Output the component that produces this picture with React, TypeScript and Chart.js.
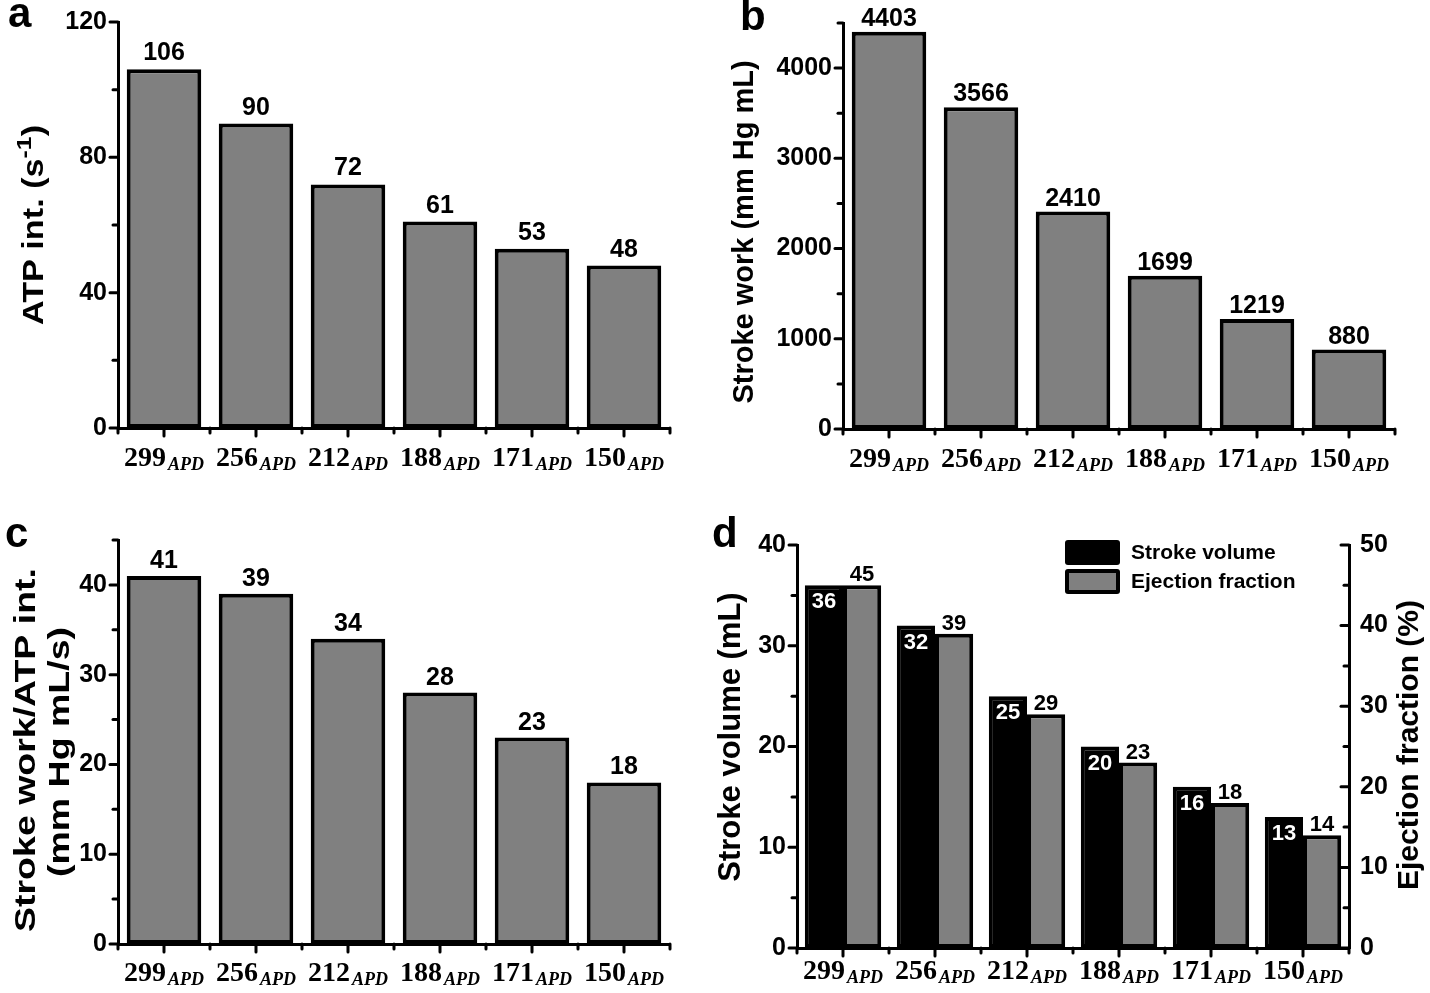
import React, { useEffect, useRef } from 'react';
import { Chart, registerables } from 'chart.js';

Chart.register(...registerables);

// ---------------- data ----------------
const categories = ['299', '256', '212', '188', '171', '150'];
const categorySubscript = 'APD';
const atpValues = [106, 90, 72, 61, 53, 48];
const strokeWorkValues = [4403, 3566, 2410, 1699, 1219, 880];
const workPerAtpValues = [41, 39, 34, 28, 23, 18];
const strokeVolumeValues = [36, 32, 25, 20, 16, 13];
const ejectionFractionValues = [45, 39, 29, 23, 18, 14];

const SANS = '"Liberation Sans", Arial, Helvetica, sans-serif';
const SERIF = '"Liberation Serif", "Times New Roman", serif';
const GRAY = '#808080';

type Seg = { text: string; size: number; dy?: number };
type Title = { x: number; y: number; segs: Seg[]; stretch?: number };
type AxisSpec = { id: string; side: 'left' | 'right'; max: number; minor: number; major: number; width: number; inward?: boolean };
type DsSpec = { label: string; data: number[]; color: string; yAxisID: string; valuePos: 'above' | 'inside' };
type Panel = {
  letter: string; letterX: number; letterY: number;
  left: number; top: number; width: number; height: number;
  padTop: number; padRight: number; xHeight: number;
  axes: AxisSpec[]; datasets: DsSpec[];
  catPct: number; barPct: number;
  valueSize: number; valueGap: number; labelOffset: number;
  titles: Title[];
  legend?: { x: number; y: number };
};

function isMajor(v: number, major: number) {
  const r = v / major;
  return Math.abs(r - Math.round(r)) < 1e-6;
}

function drawSegs(ctx: CanvasRenderingContext2D, t: Title) {
  ctx.save();
  ctx.translate(t.x, t.y);
  ctx.rotate(-Math.PI / 2);
  ctx.scale(t.stretch || 1, 1);
  let total = 0;
  const widths = t.segs.map((s) => {
    ctx.font = `bold ${s.size}px ${SANS}`;
    const w = ctx.measureText(s.text).width;
    total += w;
    return w;
  });
  let x = -total / 2;
  ctx.fillStyle = '#000';
  ctx.textBaseline = 'middle';
  ctx.textAlign = 'left';
  t.segs.forEach((s, i) => {
    ctx.font = `bold ${s.size}px ${SANS}`;
    ctx.fillText(s.text, x, s.dy || 0);
    x += widths[i];
  });
  ctx.restore();
}

function makePlugin(p: Panel) {
  return {
    id: 'panelDecor' + p.letter,
    afterDatasetsDraw(chart: any) {
      const ctx: CanvasRenderingContext2D = chart.ctx;
      p.datasets.forEach((ds, di) => {
        const meta = chart.getDatasetMeta(di);
        meta.data.forEach((el: any, i: number) => {
          const v = chart.data.datasets[di].data[i];
          ctx.save();
          ctx.font = `bold ${p.valueSize}px ${SANS}`;
          ctx.textAlign = 'center';
          if (ds.valuePos === 'inside') {
            ctx.fillStyle = '#fff';
            ctx.textBaseline = 'top';
            ctx.fillText(String(v), el.x, el.y + 6);
          } else {
            ctx.fillStyle = '#000';
            ctx.textBaseline = 'alphabetic';
            ctx.fillText(String(v), el.x, el.y - p.valueGap);
          }
          ctx.restore();
        });
      });
    },
    afterDraw(chart: any) {
      const ctx: CanvasRenderingContext2D = chart.ctx;
      ctx.save();
      ctx.strokeStyle = '#000';
      ctx.lineWidth = 3;
      ctx.lineCap = 'round';
      // y ticks
      p.axes.forEach((ax) => {
        const s = chart.scales[ax.id];
        const x0 = ax.side === 'left' ? s.right : s.left;
        const dir = ax.side === 'left' || ax.inward ? -1 : 1;
        s.ticks.forEach((t: any) => {
          const len = isMajor(t.value, ax.major) ? 8 : 5;
          const y = s.getPixelForValue(t.value);
          ctx.beginPath();
          ctx.moveTo(x0, y);
          ctx.lineTo(x0 + dir * len, y);
          ctx.stroke();
        });
      });
      // x ticks
      const xs = chart.scales.x;
      const labels: string[] = chart.data.labels;
      const y0 = xs.top;
      labels.forEach((_, i) => {
        const px = xs.getPixelForValue(i);
        ctx.beginPath();
        ctx.moveTo(px, y0);
        ctx.lineTo(px, y0 + 8);
        ctx.stroke();
      });
      for (let i = 0; i <= labels.length; i++) {
        let px: number;
        if (i === 0) px = chart.chartArea.left;
        else if (i === labels.length) px = chart.chartArea.right;
        else px = (xs.getPixelForValue(i - 1) + xs.getPixelForValue(i)) / 2;
        ctx.beginPath();
        ctx.moveTo(px, y0);
        ctx.lineTo(px, y0 + 5);
        ctx.stroke();
      }
      // x labels
      ctx.fillStyle = '#000';
      ctx.textBaseline = 'alphabetic';
      ctx.textAlign = 'left';
      labels.forEach((c, i) => {
        const px = xs.getPixelForValue(i);
        ctx.font = `bold 28px ${SERIF}`;
        const w1 = ctx.measureText(c).width;
        ctx.font = `italic bold 18px ${SERIF}`;
        const w2 = ctx.measureText(categorySubscript).width;
        const gap = 2;
        const start = px - (w1 + gap + w2) / 2;
        const base = y0 + p.labelOffset;
        ctx.font = `bold 28px ${SERIF}`;
        ctx.fillText(c, start, base);
        ctx.font = `italic bold 18px ${SERIF}`;
        ctx.fillText(categorySubscript, start + w1 + gap, base + 4);
      });
      // titles
      p.titles.forEach((t) => drawSegs(ctx, t));
      // legend
      if (p.legend) {
        const lg = p.legend;
        p.datasets.forEach((ds, i) => {
          const by = lg.y + i * 29;
          ctx.fillStyle = '#000';
          ctx.beginPath();
          ctx.roundRect(lg.x, by, 55, 25, 3);
          ctx.fill();
          if (ds.color !== '#000000') {
            ctx.fillStyle = ds.color;
            ctx.fillRect(lg.x + 4, by + 4, 47, 17);
          }
          ctx.fillStyle = '#000';
          ctx.font = `bold 21px ${SANS}`;
          ctx.textBaseline = 'middle';
          ctx.fillText(ds.label, lg.x + 66, by + 13);
        });
      }
      ctx.restore();
    },
  };
}

const panels: Panel[] = [
  {
    letter: 'a', letterX: 8, letterY: -8,
    left: 0, top: 0, width: 700, height: 490,
    padTop: 22, padRight: 30, xHeight: 62,
    axes: [{ id: 'y', side: 'left', max: 120, minor: 20, major: 40, width: 118 }],
    datasets: [{ label: 'ATP int.', data: atpValues, color: GRAY, yAxisID: 'y', valuePos: 'above' }],
    catPct: 0.81, barPct: 1, valueSize: 25, valueGap: 9, labelOffset: 38,
    titles: [{ x: 35, y: 225, stretch: 1.18, segs: [{ text: 'ATP int. (s', size: 29 }, { text: '-1', size: 21, dy: -10 }, { text: ')', size: 29 }] }],
  },
  {
    letter: 'b', letterX: 740, letterY: -5,
    left: 700, top: 0, width: 730, height: 490,
    padTop: 23, padRight: 35, xHeight: 61,
    axes: [{ id: 'y', side: 'left', max: 4500, minor: 500, major: 1000, width: 143 }],
    datasets: [{ label: 'Stroke work', data: strokeWorkValues, color: GRAY, yAxisID: 'y', valuePos: 'above' }],
    catPct: 0.81, barPct: 1, valueSize: 25, valueGap: 6, labelOffset: 38,
    titles: [{ x: 45, y: 232, segs: [{ text: 'Stroke work (mm Hg mL)', size: 29 }] }],
  },
  {
    letter: 'c', letterX: 5, letterY: 512,
    left: 0, top: 500, width: 700, height: 493,
    padTop: 40, padRight: 30, xHeight: 49,
    axes: [{ id: 'y', side: 'left', max: 45, minor: 5, major: 10, width: 118 }],
    datasets: [{ label: 'Stroke work/ATP int.', data: workPerAtpValues, color: GRAY, yAxisID: 'y', valuePos: 'above' }],
    catPct: 0.81, barPct: 1, valueSize: 25, valueGap: 8, labelOffset: 37,
    titles: [
      { x: 27, y: 250, stretch: 1.25, segs: [{ text: 'Stroke work/ATP int.', size: 30 }] },
      { x: 61, y: 252, stretch: 1.25, segs: [{ text: '(mm Hg mL/s)', size: 30 }] },
    ],
  },
  {
    letter: 'd', letterX: 712, letterY: 512,
    left: 700, top: 510, width: 730, height: 483,
    padTop: 35, padRight: 0, xHeight: 45,
    axes: [
      { id: 'y', side: 'left', max: 40, minor: 5, major: 10, width: 97 },
      { id: 'y1', side: 'right', max: 50, minor: 5, major: 10, width: 81, inward: true },
    ],
    datasets: [
      { label: 'Stroke volume', data: strokeVolumeValues, color: '#000000', yAxisID: 'y', valuePos: 'inside' },
      { label: 'Ejection fraction', data: ejectionFractionValues, color: GRAY, yAxisID: 'y1', valuePos: 'above' },
    ],
    catPct: 0.83, barPct: 1, valueSize: 22, valueGap: 4, labelOffset: 31,
    titles: [
      { x: 31, y: 227, segs: [{ text: 'Stroke volume (mL)', size: 31 }] },
      { x: 710, y: 235, segs: [{ text: 'Ejection fraction (%)', size: 30 }] },
    ],
    legend: { x: 365, y: 30 },
  },
];

function PanelChart({ p }: { p: Panel }) {
  const ref = useRef<HTMLCanvasElement | null>(null);
  useEffect(() => {
    if (!ref.current) return;
    const scales: any = {
      x: {
        type: 'category',
        offset: true,
        grid: { display: false, drawTicks: false },
        border: { display: true, color: '#000', width: 3 },
        ticks: { display: false },
        afterFit: (s: any) => {
          s.height = p.xHeight;
          s.paddingLeft = 0;
          s.paddingRight = 0;
        },
      },
    };
    p.axes.forEach((ax) => {
      scales[ax.id] = {
        type: 'linear',
        position: ax.side,
        min: 0,
        max: ax.max,
        grid: { display: false, drawTicks: false },
        border: { display: true, color: '#000', width: 3 },
        ticks: {
          stepSize: ax.minor,
          maxTicksLimit: 30,
          autoSkip: false,
          color: '#000',
          padding: 11,
          font: { family: SANS, size: 25, weight: 'bold' },
          callback: (v: number) => (isMajor(v, ax.major) ? String(v) : ''),
        },
        afterFit: (s: any) => {
          s.width = ax.width;
          s.paddingTop = 0;
          s.paddingBottom = 0;
        },
      };
    });
    const chart = new Chart(ref.current, {
      type: 'bar',
      data: {
        labels: categories,
        datasets: p.datasets.map((ds) => ({
          label: ds.label,
          data: ds.data,
          backgroundColor: ds.color,
          borderColor: '#000',
          borderWidth: 4,
          borderSkipped: false,
          yAxisID: ds.yAxisID,
          categoryPercentage: p.catPct,
          barPercentage: p.barPct,
        })),
      },
      options: {
        animation: false,
        responsive: false,
        maintainAspectRatio: false,
        layout: { padding: { top: p.padTop, right: p.padRight, left: 0, bottom: 0 } },
        plugins: { legend: { display: false }, tooltip: { enabled: false } },
        scales,
      } as any,
      plugins: [makePlugin(p)],
    });
    return () => chart.destroy();
  }, [p]);
  return (
    <canvas
      ref={ref}
      width={p.width}
      height={p.height}
      style={{ position: 'absolute', left: p.left, top: p.top, width: p.width, height: p.height }}
    />
  );
}

export default function App() {
  useEffect(() => {
    document.body.style.margin = '0';
    document.body.style.overflow = 'hidden';
    document.body.style.background = '#fff';
  }, []);
  return (
    <div style={{ position: 'absolute', left: 0, top: 0, width: 1430, height: 993, background: '#fff', overflow: 'hidden' }}>
      {panels.map((p) => (
        <PanelChart key={p.letter} p={p} />
      ))}
      {panels.map((p) => (
        <div
          key={'l' + p.letter}
          style={{
            position: 'absolute', left: p.letterX, top: p.letterY,
            font: `bold 42px ${SANS}`, lineHeight: '42px', color: '#000',
          }}
        >
          {p.letter}
        </div>
      ))}
    </div>
  );
}
